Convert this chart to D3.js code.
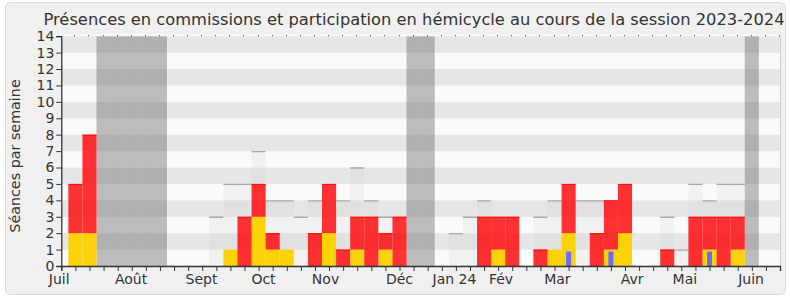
<!DOCTYPE html>
<html lang="fr">
<head>
<meta charset="utf-8">
<title>Présences en commissions et participation en hémicycle</title>
<script src="https://cdn.jsdelivr.net/npm/d3@7"></script>
<style>
  body { margin: 0; background: #fff; }
  text { font-family: "DejaVu Sans", Verdana, sans-serif; fill: #333; }
</style>
</head>
<body>
<script>

// one entry per week, week 0 = start of July 2023
var weeks = d3.range(52);

// séances en hémicycle (jaune)
var hemicycle = [0,2,2,0,0,0,0,0,0,0, 0,0,1,0,3,1,1,0,0,2, 0,1,0,1,0,0,0,0,0,0,
                 0,1,0,0,0,1,2,0,0,1, 2,0,0,0,0,0,1,0,1,0, 0,0];
// présences en commission (rouge), empilées au dessus
var commission = [0,3,6,0,0,0,0,0,0,0, 0,0,0,3,2,1,0,0,2,3, 1,2,3,1,3,0,0,0,0,0,
                  3,2,3,0,1,0,3,0,2,3, 3,0,0,1,0,3,2,3,2,0, 0,0];
// questions orales (bleu)
var questions = [0,0,0,0,0,0,0,0,0,0, 0,0,0,0,0,0,0,0,0,0, 0,0,0,0,0,0,0,0,0,0,
                 0,0,0,0,0,0,1,0,0,1, 0,0,0,0,0,0,1,0,0,0, 0,0];
// médiane des députés (gris clair)
var mediane = [0,0,0,0,0,0,0,0,0,0, 0,3,5,5,7,4,4,3,4,0, 4,6,4,3,0,0,0,0,2,3,
               4,0,0,0,3,4,0,4,4,0, 0,0,0,3,1,5,4,5,5,0, 0,0];
// semaines de vacances parlementaires
var vacances = [3,4,5,6,7,25,26,49];

var monthLabels = ["Juil","Août","Sept","Oct","Nov","Déc","Jan 24","Fév","Mar","Avr","Mai","Juin"];
var monthPos    = [-0.15, 4.95, 9.95, 14.35, 18.75, 24, 27.9, 31.2, 35.2, 40.5, 44.25, 48.95];

var w = 790, h = 300;
var x0 = 61.3, x1 = 780, yb = 266, yt = 36.2;

var svg = d3.select("body").append("svg")
  .attr("width", w).attr("height", h);

// background frame
svg.append("rect")
  .attr("x", 5.5).attr("y", 2.5).attr("width", 780).attr("height", 292)
  .attr("rx", 5).attr("fill", "#f0f0f0").attr("stroke", "#dadada");

var x = d3.scaleLinear().domain([0, 51]).range([x0, x1]);
var y = d3.scaleLinear().domain([0, 14]).range([yb, yt]);
var bw = x(1) - x(0);

// thin white strip above the plot
svg.append("rect")
  .attr("x", x0).attr("y", yt - 1.8).attr("width", x1 - x0).attr("height", 2)
  .attr("fill", "#fafafa");

svg.append("clipPath").attr("id", "plot")
  .append("rect").attr("x", x0).attr("y", yt).attr("width", x1 - x0).attr("height", yb - yt);

var g = svg.append("g").attr("clip-path", "url(#plot)");

// horizontal stripes
g.selectAll("rect.band")
  .data(d3.range(14))
  .enter().append("rect")
  .attr("x", x0).attr("width", x1 - x0)
  .attr("y", function(d) { return y(d + 1); })
  .attr("height", function(d) { return y(d) - y(d + 1); })
  .attr("fill", function(d) { return d % 2 ? "#e6e6e6" : "#fafafa"; });

// holidays
g.selectAll("rect.vac")
  .data(vacances)
  .enter().append("rect")
  .attr("x", function(d) { return x(d - 0.5); })
  .attr("width", bw)
  .attr("y", yt).attr("height", yb - yt)
  .attr("fill", "rgba(95,95,95,0.4)");

// median of all deputies
g.selectAll("rect.med")
  .data(weeks.filter(function(i) { return mediane[i] > 0; }))
  .enter().append("rect")
  .attr("x", function(i) { return x(i - 0.5); })
  .attr("width", bw)
  .attr("y", function(i) { return y(mediane[i]); })
  .attr("height", function(i) { return yb - y(mediane[i]); })
  .attr("fill", "rgba(200,200,200,0.16)");

g.selectAll("line.med")
  .data(weeks.filter(function(i) { return mediane[i] > 0; }))
  .enter().append("line")
  .attr("x1", function(i) { return x(i - 0.5); })
  .attr("x2", function(i) { return x(i + 0.5); })
  .attr("y1", function(i) { return y(mediane[i]) + 0.5; })
  .attr("y2", function(i) { return y(mediane[i]) + 0.5; })
  .attr("stroke", "#a8a8a8").attr("stroke-width", 1.3);

// hemicycle
g.selectAll("rect.hemi")
  .data(weeks.filter(function(i) { return hemicycle[i] > 0; }))
  .enter().append("rect")
  .attr("x", function(i) { return x(i - 0.5); })
  .attr("width", bw)
  .attr("y", function(i) { return y(hemicycle[i]); })
  .attr("height", function(i) { return yb - y(hemicycle[i]); })
  .attr("fill", "#fdd20b");

// commission stacked on hemicycle
g.selectAll("rect.com")
  .data(weeks.filter(function(i) { return commission[i] > 0; }))
  .enter().append("rect")
  .attr("x", function(i) { return x(i - 0.5); })
  .attr("width", bw)
  .attr("y", function(i) { return y(hemicycle[i] + commission[i]); })
  .attr("height", function(i) { return y(hemicycle[i]) - y(hemicycle[i] + commission[i]); })
  .attr("fill", "rgba(255,0,0,0.8)");

g.selectAll("line.com")
  .data(weeks.filter(function(i) { return commission[i] > 0; }))
  .enter().append("line")
  .attr("x1", function(i) { return x(i - 0.5); })
  .attr("x2", function(i) { return x(i + 0.5); })
  .attr("y1", function(i) { return y(hemicycle[i] + commission[i]) + 0.5; })
  .attr("y2", function(i) { return y(hemicycle[i] + commission[i]) + 0.5; })
  .attr("stroke", "#ff1010").attr("stroke-width", 1);

// oral questions
g.selectAll("rect.q")
  .data(weeks.filter(function(i) { return questions[i] > 0; }))
  .enter().append("rect")
  .attr("x", function(i) { return x(i) - 2.5; })
  .attr("width", 5)
  .attr("y", function(i) { return y(questions[i]) + 2; })
  .attr("height", function(i) { return yb - y(questions[i]) - 2; })
  .attr("fill", "#6b6bff");

// right edge of plot
svg.append("line")
  .attr("x1", x1 + 0.5).attr("x2", x1 + 0.5).attr("y1", yt).attr("y2", yb)
  .attr("stroke", "#d0d0d0");

// dots along the top, one per week
svg.selectAll("rect.dot")
  .data(weeks.slice(1))
  .enter().append("rect")
  .attr("x", function(d) { return Math.round(x(d)) - 1; })
  .attr("y", yt - 1).attr("width", 1).attr("height", 1)
  .attr("fill", "#333");

// y axis
var yAxis = d3.axisLeft(y).ticks(14).tickSize(5).tickPadding(2);
var gy = svg.append("g").attr("transform", "translate(" + x0 + ",0)").call(yAxis);
gy.select(".domain").attr("stroke", "#333").attr("stroke-width", 1.3);
gy.selectAll(".tick line").attr("stroke", "#333");
gy.selectAll(".tick text").attr("font-size", 14).attr("fill", "#333")
  .style("font-family", "DejaVu Sans");

// x axis: one tick per week, month labels apart
var xAxis = d3.axisBottom(x).tickValues(weeks).tickSize(5).tickFormat("");
var gx = svg.append("g").attr("transform", "translate(0," + yb + ")").call(xAxis);
gx.select(".domain").attr("stroke", "#333").attr("stroke-width", 1.3);
gx.selectAll(".tick line").attr("stroke", "#333");

svg.selectAll("text.month")
  .data(monthLabels)
  .enter().append("text")
  .attr("x", function(d, i) { return x(monthPos[i]); })
  .attr("y", 284)
  .attr("text-anchor", "middle")
  .attr("font-size", 14)
  .text(function(d) { return d; });

// titles
svg.append("text")
  .attr("x", 414).attr("y", 25)
  .attr("text-anchor", "middle")
  .attr("font-size", 16.3)
  .text("Présences en commissions et participation en hémicycle au cours de la session 2023-2024");

svg.append("text")
  .attr("transform", "translate(20,156) rotate(-90)")
  .attr("text-anchor", "middle")
  .attr("font-size", 14.3)
  .text("Séances par semaine");

</script>
</body>
</html>
